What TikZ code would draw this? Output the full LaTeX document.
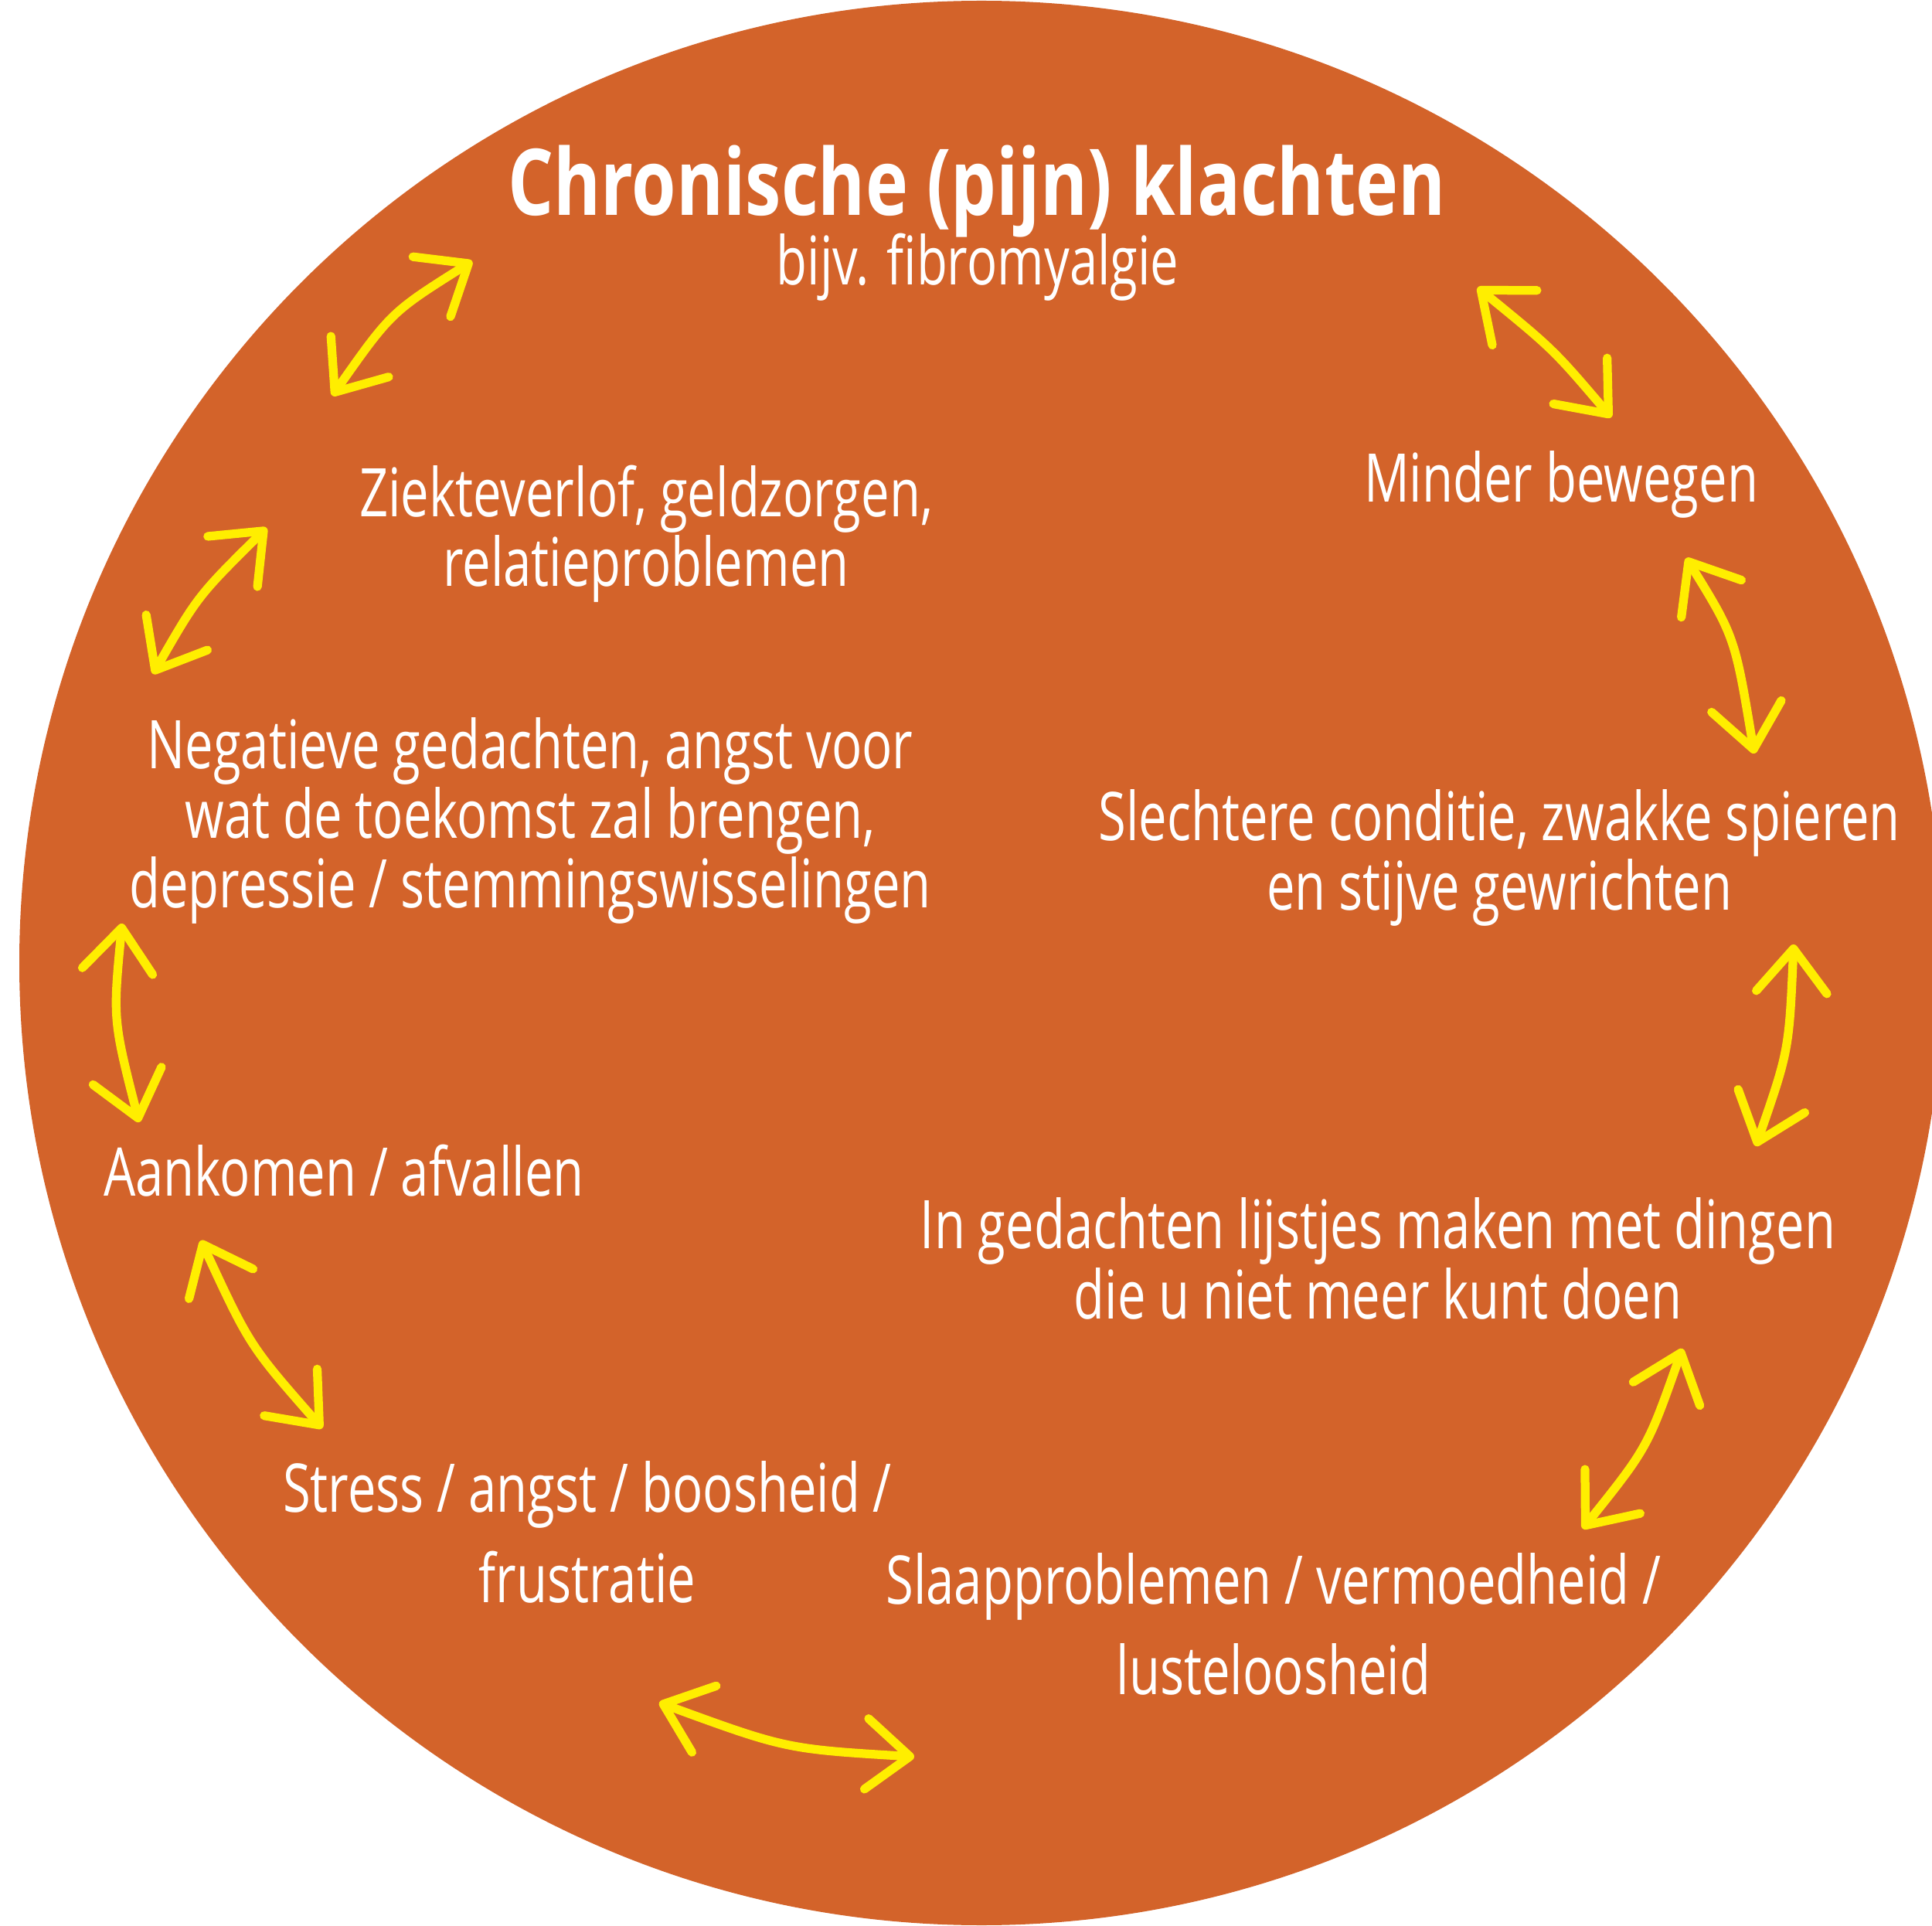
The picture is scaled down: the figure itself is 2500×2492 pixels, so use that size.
\documentclass[tikz,border=0pt]{standalone}
\usepackage{fontspec}
\setmainfont{Open Sans}[FakeStretch=0.75]
\newfontfamily\titlefont{Open Sans}[FakeStretch=0.78]
\usetikzlibrary{arrows.meta}
\definecolor{bg}{HTML}{D3632A}
\definecolor{yel}{HTML}{FFEE00}
\tikzset{
  lbl/.style={text=white, align=center, inner sep=0pt, anchor=base, font=\fontsize{24.7pt}{24.5pt}\selectfont},
  lblwide/.style={lbl, font=\fontsize{24.7pt}{33.2pt}\selectfont},
  ttl/.style={text=white, inner sep=0pt, anchor=base, font=\titlefont\bfseries\fontsize{33.9pt}{34pt}\selectfont},
  arr/.style={draw=yel, line width=3.2pt, line cap=round, <->, >={Straight Barb[length=16pt,width=26pt,round]}}
}
\begin{document}
\begin{tikzpicture}[x=0.01cm,y=-0.01cm]
\useasboundingbox (0,0) rectangle (2500,2492);
\fill[white] (0,0) rectangle (2500,2492);
\begin{scope}
\clip (0,0) rectangle (2500,2492);
\fill[bg] (1270,1246) circle[radius=1245];
\end{scope}
% texts (anchor base = baseline of the last line)
\node[ttl] (title) at (1264,279) {Chronische (pijn) klachten};
\node[lbl] (sub) at (1265,369) {bijv. fibromyalgie};
\node[lbl] (minder) at (2020,650) {Minder bewegen};
\node[lbl] (ziekte) at (836,759) {Ziekteverlof, geldzorgen,\\relatieproblemen};
\node[lbl] (neg) at (686,1175) {Negatieve gedachten, angst voor\\wat de toekomst zal brengen,\\depressie / stemmingswisselingen};
\node[lbl] (slecht) at (1940,1178) {Slechtere conditie, zwakke spieren\\en stijve gewrichten};
\node[lbl] (aank) at (445,1547) {Aankomen / afvallen};
\node[lbl] (lijst) at (1783,1706) {In gedachten lijstjes maken met dingen\\die u niet meer kunt doen};
\node[lblwide] (stress) at (760,2073) {Stress / angst / boosheid /\\frustratie};
\node[lblwide] (slaap) at (1648,2192) {Slaapproblemen / vermoedheid /\\lusteloosheid};
% arrow end points
\coordinate (a1s) at (611,338); \coordinate (a1e) at (430,512);
\coordinate (a2s) at (1912,372); \coordinate (a2e) at (2085,540);
\coordinate (a3s) at (345,683); \coordinate (a3e) at (198,872);
\coordinate (a4s) at (2182,722); \coordinate (a4e) at (2270,975);
\coordinate (a5s) at (158,1195); \coordinate (a5e) at (180,1452);
\coordinate (a6s) at (2321,1222); \coordinate (a6e) at (2272,1483);
\coordinate (a7s) at (260,1605); \coordinate (a7e) at (417,1848);
\coordinate (a8s) at (2177,1745); \coordinate (a8e) at (2048,1978);
\coordinate (a9s) at (853,2203); \coordinate (a9e) at (1183,2273);
\draw[arr] (a1s) .. controls (506,404) .. (a1e);
\draw[arr] (a2s) .. controls (2010,452) .. (a2e);
\draw[arr] (a3s) .. controls (256,771) .. (a3e);
\draw[arr] (a4s) .. controls (2245,824) .. (a4e);
\draw[arr] (a5s) .. controls (146,1319) .. (a5e);
\draw[arr] (a6s) .. controls (2315,1359) .. (a6e);
\draw[arr] (a7s) .. controls (323,1741) .. (a7e);
\draw[arr] (a8s) .. controls (2132,1873) .. (a8e);
\draw[arr] (a9s) .. controls (1017,2263) .. (a9e);
\end{tikzpicture}
\end{document}
